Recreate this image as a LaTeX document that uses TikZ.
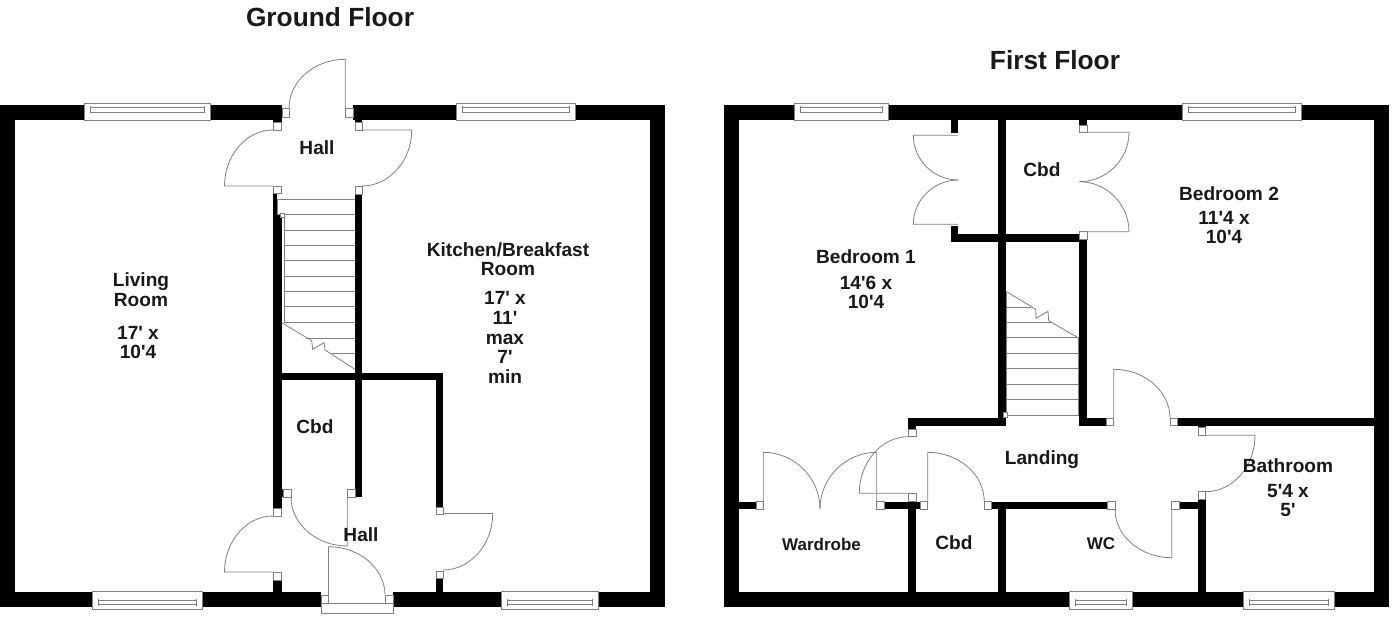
\documentclass[tikz,border=0pt]{standalone}
\usepackage{fontspec}
\usetikzlibrary{calc}
\newfontfamily\planfont{Liberation Sans}[Ligatures=NoCommon]

\tikzset{
  wall/.style={fill=black},
  planline/.style={draw=black!50, line width=0.8pt},
  jamb/.style={planline, fill=white},
  pane/.style={draw=black!50, fill=white, line width=0.9pt},
  roomtext/.style={font=\planfont\bfseries\fontsize{19.1}{19.6}\selectfont, align=center, inner sep=0pt, text=black!90},
  smalltext/.style={roomtext, font=\planfont\bfseries\fontsize{17}{18}\selectfont},
  titletext/.style={font=\planfont\bfseries\fontsize{26.3}{28}\selectfont, inner sep=0pt, text=black!90}
}
% hinge, open end of the leaf, end of the swing
\newcommand{\doorleaf}[3]{\draw[planline] (#1) -- (#2) .. controls ($(#2)+.55*(#3)-.55*(#1)$) and ($(#3)+.55*(#2)-.55*(#1)$) .. (#3);}

\begin{document}
\begin{tikzpicture}[x=1pt, y=-1pt]
\useasboundingbox (0,0) rectangle (1392,616);

% ground floor walls
\fill[wall] (0,105) rectangle (281.7,120);
\fill[wall] (352.7,105) rectangle (665,120);
\fill[wall] (0,105) rectangle (15,606.5);
\fill[wall] (650,105) rectangle (665,606.5);
\fill[wall] (0,591.7) rectangle (321,606.5);
\fill[wall] (393,591.7) rectangle (665,606.5);
\fill[wall] (273,120) rectangle (281.7,125);
\fill[wall] (355,120) rectangle (362,125);
\fill[wall] (273,190) rectangle (277.3,214);
\fill[wall] (273,214) rectangle (281.7,510);
\fill[wall] (281,489) rectangle (283,497);
\fill[wall] (273,575) rectangle (281.7,592);
\fill[wall] (355,190) rectangle (362,497);
\fill[wall] (281,372.7) rectangle (443.3,380);
\fill[wall] (436,372.7) rectangle (443.3,510);
\fill[wall] (436,575) rectangle (443.3,592);

% first floor walls
\fill[wall] (724,105) rectangle (1388.7,120);
\fill[wall] (724,105) rectangle (738.7,606.5);
\fill[wall] (1374,105) rectangle (1388.7,606.5);
\fill[wall] (724,591.7) rectangle (1388.7,606.5);
\fill[wall] (951,120) rectangle (958.3,133.3);
\fill[wall] (951,226) rectangle (958.3,241.7);
\fill[wall] (951,234.3) rectangle (1087,241.7);
\fill[wall] (998,120) rectangle (1005.7,425.7);
\fill[wall] (1079.3,120) rectangle (1087.3,127);
\fill[wall] (1079.3,234.3) rectangle (1087.3,425.7);
\fill[wall] (908.3,418.3) rectangle (1005.7,425.7);
\fill[wall] (908.3,418.3) rectangle (916,431);
\fill[wall] (1079.3,418.3) rectangle (1108,425.7);
\fill[wall] (1172,418.3) rectangle (1376,425.7);
\fill[wall] (1198.3,425) rectangle (1205.7,430);
\fill[wall] (738,501.7) rectangle (758,509.3);
\fill[wall] (882,501.7) rectangle (922,509.3);
\fill[wall] (908.3,495) rectangle (916,592);
\fill[wall] (990,501.7) rectangle (1109,509.3);
\fill[wall] (998,509) rectangle (1005.7,592);
\fill[wall] (1177,501.7) rectangle (1205.7,509.3);
\fill[wall] (1198.3,494) rectangle (1205.7,592);

% windows
\foreach \xa/\xb in {84.5/210, 456/575, 794/888, 1182/1301}{
  \draw[pane] (\xa,103) rectangle (\xb,120);
  \draw[planline] ({\xa+6},107) -- ({\xb-6},107);
  \draw[planline] ({\xa+6},112) -- ({\xb-6},112);
  \draw[planline] ({\xa+6},106) -- ({\xa+6},113);
  \draw[planline] ({\xb-6},106) -- ({\xb-6},113);
}
\foreach \xa/\xb in {92/202, 501/598, 1069/1132, 1243.3/1334}{
  \draw[pane] (\xa,591.7) rectangle (\xb,609.3);
  \draw[planline] ({\xa+6},600) -- ({\xb-6},600);
  \draw[planline] ({\xa+6},604.5) -- ({\xb-6},604.5);
  \draw[planline] ({\xa+6},598.5) -- ({\xa+6},606);
  \draw[planline] ({\xb-6},598.5) -- ({\xb-6},606);
}

% front door threshold
\draw[pane] (321,603) rectangle (393,613);

% ground floor stairs
\foreach \y in {214.7, 230, 245.4, 260.7, 276, 291.4, 306.8, 322.4}{\draw[planline] (284,\y) -- (355,\y);}
\draw[planline] (277.3,199.3) -- (355,199.3);
\draw[planline] (277.3,199.3) -- (277.3,214) -- (281,214);
\draw[planline] (306,338) -- (355,338);
\draw[planline] (331.7,353.3) -- (355,353.3);
\draw[planline] (284,217) -- (284,322.4);
\draw[jamb] (280,213) rectangle (284,217);
\draw[planline] (281.7,322.7) -- (311.7,340.7) -- (312.7,349.3) -- (324,342.7) -- (325,350) -- (355,369.3);

% first floor stairs
\foreach \y in {337.7, 353.3, 368.7, 384, 399.3, 415}{\draw[planline] (1007,\y) -- (1078.7,\y);}
\draw[planline] (1007,322.3) -- (1052,322.3);
\draw[planline] (1007,307) -- (1030.5,307);
\draw[planline] (1006.5,291.7) -- (1006.5,415);
\draw[planline] (1078.7,337.7) -- (1078.7,415);
\draw[jamb] (1003,412.7) rectangle (1007.7,417.3);
\draw[planline] (1006.7,291.7) -- (1035.7,309.3) -- (1036,318.3) -- (1048,311.3) -- (1048.7,320.7) -- (1078,337.7);

% door jambs
\foreach \xa/\ya/\xb/\yb in {282/108/289/117, 345/108/353/117, 273/122/281.7/130, 355/122/362/130,
  273/186/281.7/193, 355/186/362/194, 283/489/291/497, 347.3/489/355/497, 273/508/281.7/516,
  273/572/281.7/580, 436/507/443.3/514, 436/571/443.3/578, 321/595/328.5/603, 385/595/393/603,
  1079.3/125/1087.3/132.3, 1079.3/231.7/1087.3/239, 1106/418.3/1113.7/425.7, 1170/418.3/1177.3/425.7,
  1198.3/427.7/1205.7/435.3, 1198.3/491.7/1205.7/499.3, 1107.3/501.7/1115/509.3, 1171.7/501.7/1179/509.3,
  984.3/501.7/991.7/509.3, 920/501.7/927.7/509.3, 876.7/501.7/884/509.3, 756/501.7/763.3/509.3,
  908.3/493.3/916/501, 908.3/429/916/436.7}{
  \draw[jamb] (\xa,\ya) rectangle (\xb,\yb);
}

% ground floor doors
\doorleaf{345.3,108}{345.3,59.3}{289,108}
\doorleaf{273,186}{224.5,186}{273,130}
\doorleaf{362,130}{411.7,130}{362,186}
\doorleaf{347.3,497}{347.3,546}{291,497}
\doorleaf{328.5,595}{328.5,546.7}{385,595}
\doorleaf{273,572}{224.5,572}{273,516}
\doorleaf{443,513.5}{492.7,513.5}{443,570}

% first floor doors
\doorleaf{958.3,135.3}{913.3,135.3}{958.3,180}
\doorleaf{958.3,224.3}{913.3,224.3}{958.3,180}
\doorleaf{1079.3,132.3}{1129,132.3}{1079.3,181.7}
\doorleaf{1079.3,231.7}{1129,231.7}{1079.3,181.7}
\doorleaf{1113.7,418.3}{1113.7,369.3}{1170,418.3}
\doorleaf{1205.7,435.3}{1255,435.3}{1205.7,491.7}
\doorleaf{1171.7,509.3}{1171.7,557.7}{1115,509.3}
\doorleaf{927.7,501.7}{927.7,452.3}{984.3,501.7}
\doorleaf{876.7,509}{876.7,452.3}{820,509}
\doorleaf{763.3,509}{763.3,452.3}{820,509}
\doorleaf{908.3,493.3}{859.3,493.3}{908.3,436.7}

% titles
\node[titletext] (groundtitle) at (330,17) {Ground Floor};
\node[titletext] (firsttitle) at (1055,60) {First Floor};

% ground floor labels
\node[roomtext] (hallupper) at (317,147.5) {Hall};
\node[roomtext] (livingname) at (141,289.5) {Living\\Room};
\node[roomtext] (livingsize) at (138,342.5) {17' x\\10'4};
\node[roomtext] (kitchenname) at (508,259) {Kitchen/Breakfast\\Room};
\node[roomtext] (kitchensize) at (505,337.5) {17' x\\11'\\max\\7'\\min};
\node[roomtext] (cbdground) at (315,426.5) {Cbd};
\node[roomtext] (halllower) at (361,534.5) {Hall};

% first floor labels
\node[roomtext] (bedonename) at (866,257) {Bedroom 1};
\node[roomtext] (bedonesize) at (866,292.5) {14'6 x\\10'4};
\node[roomtext] (cbdupper) at (1042,170) {Cbd};
\node[roomtext] (bedtwoname) at (1229,193.5) {Bedroom 2};
\node[roomtext] (bedtwosize) at (1224,227.5) {11'4 x\\10'4};
\node[roomtext] (landing) at (1042,460) {Landing};
\node[roomtext] (bathname) at (1288,466) {Bathroom};
\node[roomtext] (bathsize) at (1288,500.5) {5'4 x\\5'};
\node[smalltext] (wardrobe) at (821.5,544) {Wardrobe};
\node[roomtext] (cbdlower) at (954,543) {Cbd};
\node[smalltext] (wc) at (1101,544) {WC};
\end{tikzpicture}
\end{document}
